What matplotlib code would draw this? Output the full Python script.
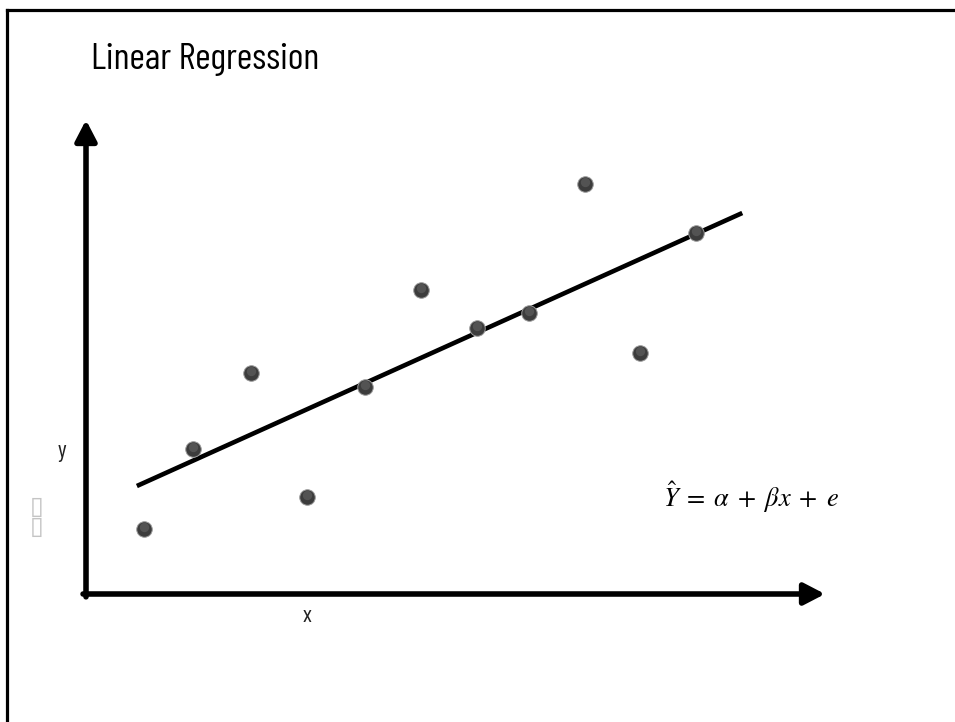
import numpy as np
import matplotlib
matplotlib.use("Agg")
import matplotlib.pyplot as plt
from matplotlib.lines import Line2D

# data
x_vals = [1.04, 1.91, 2.95, 3.95, 4.99, 5.99, 6.99, 7.92, 8.93, 9.91, 10.91]
y_vals = [1.30, 2.90, 4.42, 1.94, 4.14, 6.08, 5.32, 5.62, 8.20, 4.82, 7.22]

# ends of the regression line drawn in the picture
line_x = [0.91, 11.74]
line_y = [2.16, 7.62]

title_text = "Linear Regression"
equation = r"$\hat{Y}\;=\;\alpha\;+\;\beta x\;+\;e$"
narrow = ["Barlow Condensed", "Roboto Condensed", "DejaVu Sans"]

W, H = 955, 722
fig = plt.figure(figsize=(W / 100, H / 100), dpi=100)
fig.patch.set_facecolor("white")

# slide frame (only top and left edges are visible)
fig.add_artist(Line2D([7 / W, 1], [1 - 10 / H, 1 - 10 / H], color="black", lw=2.3))
fig.add_artist(Line2D([7 / W, 7 / W], [0, 1 - 10 / H], color="black", lw=2.3))

# plotting area: origin of the arrows at pixel (86, 594)
ax = fig.add_axes([86 / W, (H - 594) / H, 739 / W, 474 / H])
ax.set_xlim(0, 739 / 55.9)
ax.set_ylim(0, 474 / 50)
ax.axis("off")

# axis arrows
arrow = dict(arrowstyle="-|>,head_length=12.5,head_width=6.5", mutation_scale=1,
             lw=4, color="black", shrinkA=0, shrinkB=0)
ax.annotate("", xy=(0, 1), xytext=(0, -0.006), xycoords="axes fraction",
            arrowprops=arrow, annotation_clip=False)
ax.annotate("", xy=(1, 0), xytext=(-0.004, 0), xycoords="axes fraction",
            arrowprops=arrow, annotation_clip=False)

# regression line
ax.plot(line_x, line_y, color="black", lw=3.3, solid_capstyle="butt", zorder=2)

# points as grey balls (dark base + soft lighter top)
ax.scatter(x_vals, y_vals, s=125, color="#3c3c3c", edgecolor="#9a9a9a",
           linewidth=0.7, zorder=3)
ax.scatter(np.array(x_vals), np.array(y_vals) + 0.04, s=45, color="#5a5a5a",
           linewidth=0, alpha=0.8, zorder=4)

# texts
fig.text(91 / W, 1 - 69 / H, title_text, fontsize=27, family=narrow,
         color="black", va="baseline", ha="left")
fig.text(62 / W, 1 - 451 / H, "y", fontsize=17, family=narrow,
         color="#222222", va="center", ha="center")
fig.text(307 / W, 1 - 617 / H, "x", fontsize=17, family=narrow,
         color="#222222", va="center", ha="center")
fig.text(37 / W, 1 - 517 / H, "\u25af\n\u25af", fontsize=18, color="#c4c4c4",
         family="DejaVu Sans", va="center", ha="center", linespacing=0.8)

plt.rcParams["mathtext.fontset"] = "stix"
fig.text(663 / W, 1 - 497 / H, equation, fontsize=19, color="black",
         va="center", ha="left")

fig.savefig("out.png", dpi=100, facecolor="white")
